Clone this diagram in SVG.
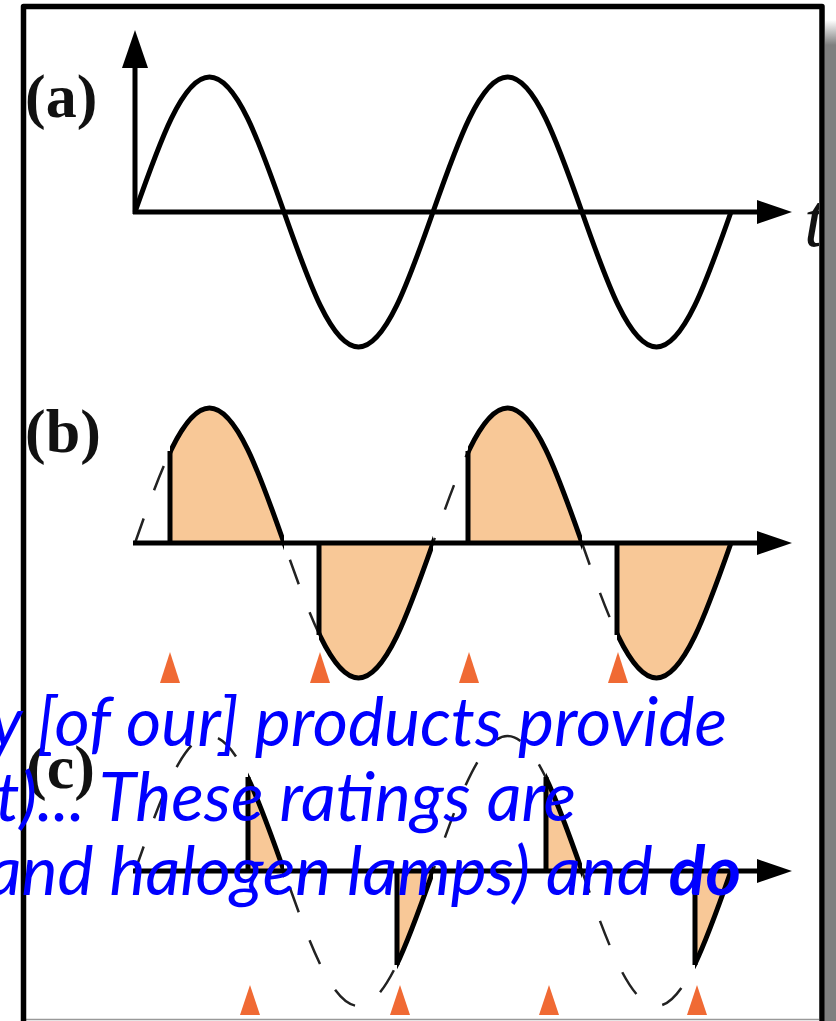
<svg xmlns="http://www.w3.org/2000/svg" width="836" height="1021" viewBox="0 0 836 1021">
<style>
.ax{stroke:#000;stroke-width:5;fill:none}
.sol{stroke:#000;stroke-width:5;fill:none;stroke-linejoin:round}
.vl{stroke:#000;stroke-width:5}
.dash{stroke:#222;stroke-width:2.5;fill:none;stroke-dasharray:26 30}
.fill{fill:#F8C897;stroke:none}
.tri{fill:#F06A34}
.head{fill:#000}
.lbl{font-family:"Liberation Serif","Times New Roman",serif;font-weight:bold;font-size:62px;fill:#111}
.tt{font-family:"Liberation Serif","Times New Roman",serif;font-style:italic;font-size:76px;fill:#111}
.ov{font-family:Lato,"Open Sans",sans-serif;font-style:italic;font-size:68px;fill:#0000FF}
</style>
<defs>
<linearGradient id="shg" x1="0" y1="20" x2="0" y2="45" gradientUnits="userSpaceOnUse">
<stop offset="0" stop-color="#ffffff"/><stop offset="1" stop-color="#7f7f7f"/>
</linearGradient>
<path id="sb" d="M135,543 C159.3,473.84 182.54,408 209.5,408 C236.46,408 259.7,473.84 284,543 C308.3,612.16 331.54,678 358.5,678 C385.46,678 408.7,612.16 433,543 C457.3,473.84 480.54,408 507.5,408 C534.46,408 557.7,473.84 582,543 C606.3,612.16 629.54,678 656.5,678 C683.46,678 706.7,612.16 731,543"/>
<path id="sc" d="M135,871 C159.3,801.84 182.54,736 209.5,736 C236.46,736 259.7,801.84 284,871 C308.3,940.16 331.54,1006 358.5,1006 C385.46,1006 408.7,940.16 433,871 C457.3,801.84 480.54,736 507.5,736 C534.46,736 557.7,801.84 582,871 C606.3,940.16 629.54,1006 656.5,1006 C683.46,1006 706.7,940.16 731,871"/>
<clipPath id="bon"><rect x="170" y="390" width="114" height="300"/><rect x="319" y="390" width="114" height="300"/><rect x="468" y="390" width="114" height="300"/><rect x="617" y="390" width="116" height="300"/></clipPath>
<clipPath id="boff"><rect x="133" y="390" width="37" height="300"/><rect x="284" y="390" width="35" height="300"/><rect x="433" y="390" width="35" height="300"/><rect x="582" y="390" width="35" height="300"/></clipPath>
<clipPath id="con"><rect x="248" y="720" width="36" height="300"/><rect x="397" y="720" width="36" height="300"/><rect x="546" y="720" width="36" height="300"/><rect x="695" y="720" width="38" height="300"/></clipPath>
<clipPath id="coff"><rect x="133" y="720" width="115" height="300"/><rect x="284" y="720" width="113" height="300"/><rect x="433" y="720" width="113" height="300"/><rect x="582" y="720" width="113" height="300"/></clipPath>
<clipPath id="inner"><rect x="0" y="0" width="819" height="1021"/></clipPath>
</defs>
<rect x="0" y="0" width="836" height="1021" fill="#fff"/>
<rect id="shadow" x="825" y="20" width="11" height="1001" fill="url(#shg)"/>

<g id="panel-a">
<line class="ax" x1="135" y1="214" x2="135" y2="64"/>
<polygon class="head" points="135,30 122,68 148,68"/>
<line class="ax" x1="133" y1="212" x2="760" y2="212"/>
<polygon class="head" points="792,212 757,200 757,224"/>
<path class="sol" d="M135,212 C159.3,142.84 182.54,77 209.5,77 C236.46,77 259.7,142.84 284,212 C308.3,281.16 331.54,347 358.5,347 C385.46,347 408.7,281.16 433,212 C457.3,142.84 480.54,77 507.5,77 C534.46,77 557.7,142.84 582,212 C606.3,281.16 629.54,347 656.5,347 C683.46,347 706.7,281.16 731,212"/>
<text class="lbl" x="25" y="117">(a)</text>
<text class="tt" x="804" y="246" clip-path="url(#inner)">t</text>
</g>

<g id="panel-b">
<use href="#sb" class="fill" clip-path="url(#bon)"/>
<use href="#sb" class="dash" clip-path="url(#boff)"/>
<line class="ax" x1="133" y1="543" x2="760" y2="543"/>
<polygon class="head" points="792,543 757,531 757,555"/>
<use href="#sb" class="sol" clip-path="url(#bon)"/>
<line class="vl" x1="170" y1="545" x2="170" y2="451"/>
<line class="vl" x1="319" y1="541" x2="319" y2="635"/>
<line class="vl" x1="468" y1="545" x2="468" y2="451"/>
<line class="vl" x1="617" y1="541" x2="617" y2="635"/>
<polygon class="tri" points="170,652 160,683 180,683"/>
<polygon class="tri" points="320,652 310,683 330,683"/>
<polygon class="tri" points="469,652 459,683 479,683"/>
<polygon class="tri" points="618,652 608,683 628,683"/>
<text class="lbl" x="25" y="452">(b)</text>
</g>

<g id="panel-c">
<use href="#sc" class="fill" clip-path="url(#con)"/>
<use href="#sc" class="dash" clip-path="url(#coff)"/>
<line class="ax" x1="133" y1="871" x2="760" y2="871"/>
<polygon class="head" points="792,871 757,859 757,883"/>
<use href="#sc" class="sol" clip-path="url(#con)"/>
<line class="vl" x1="248" y1="873" x2="248" y2="777"/>
<line class="vl" x1="397" y1="869" x2="397" y2="965"/>
<line class="vl" x1="546" y1="873" x2="546" y2="777"/>
<line class="vl" x1="695" y1="869" x2="695" y2="965"/>
<polygon class="tri" points="250,985 240,1015 260,1015"/>
<polygon class="tri" points="400,985 390,1015 410,1015"/>
<polygon class="tri" points="549,985 539,1015 559,1015"/>
<polygon class="tri" points="697,985 687,1015 707,1015"/>
<text class="lbl" x="26" y="788">(c)</text>
</g>

<g id="frame">
<line x1="26" y1="1019.5" x2="819" y2="1019.5" stroke="#999" stroke-width="1.5"/>
<path d="M23.5,1021 L23.5,6.5 L822,6.5 L822,1021" fill="none" stroke="#000" stroke-width="5.5" stroke-linejoin="round"/>
</g>

<g id="overlay-text">
<text class="ov" x="727" y="746" text-anchor="end">y [of our] products provide</text>
<text class="ov" x="576" y="821" text-anchor="end">t)... These ratings are</text>
<text class="ov" x="741" y="895" text-anchor="end">and halogen lamps) and <tspan font-weight="bold">do</tspan></text>
</g>
</svg>
